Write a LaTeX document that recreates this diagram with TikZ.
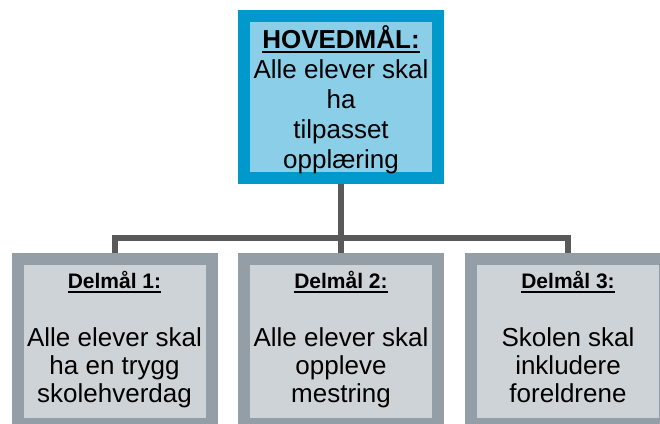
\documentclass[tikz,border=0pt]{standalone}
\usepackage{fontspec}
\setmainfont{Liberation Sans}
\definecolor{topborder}{RGB}{0,153,204}
\definecolor{topfill}{RGB}{138,206,232}
\definecolor{subborder}{RGB}{148,158,167}
\definecolor{subfill}{RGB}{206,211,216}
\definecolor{connc}{RGB}{89,89,89}
\newcommand{\ulbox}[3]{\leavevmode\vtop{\hbox{#1}\kern#2\hrule height #3}}
\begin{document}
\begin{tikzpicture}[x=1pt,y=-1pt,
  topbox/.style={rectangle, draw=topborder, fill=topfill, line width=12pt,
    minimum width=194pt, minimum height=162pt, inner sep=0pt, outer sep=6pt},
  subbox/.style={rectangle, draw=subborder, fill=subfill, line width=12pt,
    minimum width=194pt, minimum height=165pt, inner sep=0pt, outer sep=6pt},
  toptext/.style={align=center, inner sep=0pt, font=\fontsize{26}{30}\selectfont},
  subtext/.style={align=center, inner sep=0pt, font=\fontsize{26}{28}\selectfont},
  conn/.style={draw=connc, line width=6pt}]
\useasboundingbox (0,0) rectangle (660,423);
\clip (0,0) rectangle (660,423);
\fill[white] (0,0) rectangle (660,423);
\node[topbox] (top) at (341,97) {};
\node[subbox] (b1) at (114.5,341.5) {};
\node[subbox] (b2) at (341,341.5) {};
\node[subbox] (b3) at (568,341.5) {};
\coordinate (bus) at (341,238);
\draw[conn] (top.south) -- (bus);
\draw[conn] (b1.north) -- (b1.north |- bus) -- (b3.north |- bus) -- (b3.north);
\draw[conn] (bus) -- (b2.north);
\node[toptext] (t0) at (341,99.5) {{\bfseries\ulbox{HOVEDMÅL:}{2.3pt}{2.5pt}}\\Alle elever skal\\ha\\tilpasset\\opplæring};
\node[subtext] (t1) at (114.5,340) {{\fontsize{21}{28}\selectfont\bfseries\ulbox{Delmål 1:}{1.8pt}{2pt}}\\[30pt]Alle elever skal\\ha en trygg\\skolehverdag};
\node[subtext] (t2) at (341,340) {{\fontsize{21}{28}\selectfont\bfseries\ulbox{Delmål 2:}{1.8pt}{2pt}}\\[30pt]Alle elever skal\\oppleve\\mestring};
\node[subtext] (t3) at (568,340) {{\fontsize{21}{28}\selectfont\bfseries\ulbox{Delmål 3:}{1.8pt}{2pt}}\\[30pt]Skolen skal\\inkludere\\foreldrene\vphantom{g}};
\end{tikzpicture}
\end{document}
